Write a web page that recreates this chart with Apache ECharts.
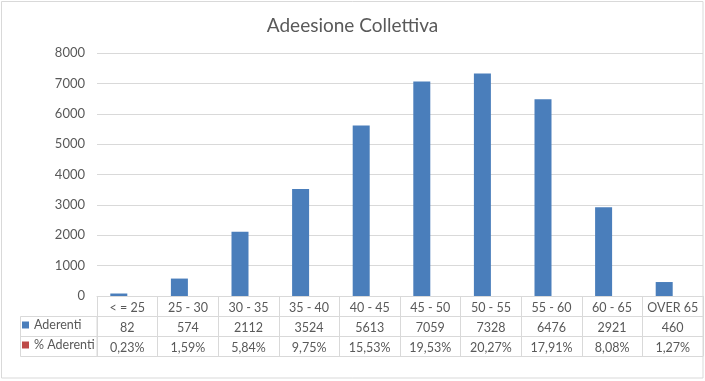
<!DOCTYPE html>
<html>
<head>
<meta charset="utf-8">
<script src="https://cdn.jsdelivr.net/npm/echarts@6/dist/echarts.min.js"></script>
<style>
html,body{margin:0;padding:0;background:#fff;}
#c{width:705px;height:381px;}
</style>
</head>
<body>
<div id="c"></div>
<script>
const title = 'Adeesione Collettiva';
const categories = ['< = 25', '25 - 30', '30 - 35', '35 - 40', '40 - 45', '45 - 50', '50 - 55', '55 - 60', '60 - 65', 'OVER 65'];
const aderenti = [82, 574, 2112, 3524, 5613, 7059, 7328, 6476, 2921, 460];
const percAderenti = [0.23, 1.59, 5.84, 9.75, 15.53, 19.53, 20.27, 17.91, 8.08, 1.27];
const yTicks = { min: 0, max: 8000, interval: 1000 };

const FONT = 'Lato';
const TXT = '#595959';
const LINE = '#d9d9d9';
const fmtPct = v => v.toFixed(2).replace('.', ',') + '%';

const chart = echarts.init(document.getElementById('c'), null, { renderer: 'canvas' });
const tableAxis = (labels, offset, showLabel) => ({
  type: 'category',
  gridIndex: 0,
  position: 'bottom',
  offset: offset,
  data: labels,
  axisLine: { show: true, lineStyle: { color: LINE, width: 1 } },
  axisTick: { show: false },
  axisLabel: { show: showLabel, color: TXT, fontFamily: FONT, fontSize: 12.5, margin: 5, interval: 0 },
  splitLine: { show: false }
});

chart.setOption({
  animation: false,
  backgroundColor: '#fff',
  title: {
    text: title, left: 'center', top: 11,
    textStyle: { color: TXT, fontFamily: FONT, fontSize: 19, fontWeight: 'normal' }
  },
  grid: { left: 97, right: 2, top: 53, bottom: 85, containLabel: false },
  legend: {
    orient: 'vertical', left: 22, top: 318, padding: [0, 0, 0, 0],
    itemWidth: 7, itemHeight: 7, itemGap: 6, icon: 'rect',
    textStyle: { color: TXT, fontFamily: FONT, fontSize: 12.5, lineHeight: 14 },
    data: ['Aderenti', '% Aderenti']
  },
  xAxis: [
    {
      type: 'category', gridIndex: 0, position: 'bottom', data: categories,
      axisLine: { show: true, lineStyle: { color: LINE, width: 1 } },
      axisTick: { show: true, length: 60, inside: false, lineStyle: { color: LINE, width: 1 } },
      axisLabel: { color: TXT, fontFamily: FONT, fontSize: 12.5, margin: 5, interval: 0 }
    },
    tableAxis(aderenti.map(String), 20, true),
    tableAxis(percAderenti.map(fmtPct), 40, true),
    tableAxis(categories.map(() => ''), 60, false)
  ],
  yAxis: {
    type: 'value', min: yTicks.min, max: yTicks.max, interval: yTicks.interval,
    axisLine: { show: false }, axisTick: { show: false },
    axisLabel: { color: TXT, fontFamily: FONT, fontSize: 13, margin: 12, formatter: v => String(v) },
    splitLine: { lineStyle: { color: LINE, width: 1 } }
  },
  series: [
    {
      name: 'Aderenti', type: 'bar', xAxisIndex: 0, data: aderenti,
      barWidth: 17, barGap: '0%', itemStyle: { color: '#4a7ebb' }
    },
    {
      name: '% Aderenti', type: 'bar', xAxisIndex: 0, data: percAderenti.map(v => v / 100),
      barWidth: 17, barGap: '0%', itemStyle: { color: '#be4b48' }
    }
  ],
  graphic: [
    { type: 'rect', shape: { x: 1.5, y: 1.5, width: 701.5, height: 376.5 }, style: { fill: 'none', stroke: LINE, lineWidth: 1 }, silent: true },
    { type: 'rect', shape: { x: 20.5, y: 316.5, width: 76.5, height: 40 }, style: { fill: 'none', stroke: LINE, lineWidth: 1 }, silent: true },
    { type: 'line', shape: { x1: 20.5, y1: 336.5, x2: 97, y2: 336.5 }, style: { stroke: LINE, lineWidth: 1 }, silent: true }
  ]
});
</script>
</body>
</html>
